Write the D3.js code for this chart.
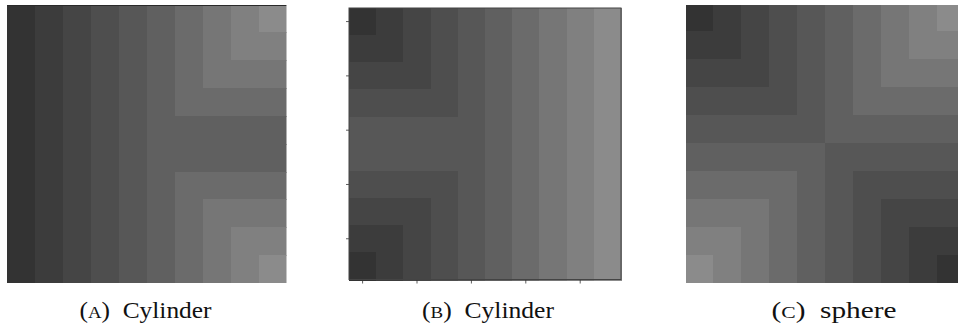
<!DOCTYPE html>
<html>
<head>
<meta charset="utf-8">
<script src="https://cdn.jsdelivr.net/npm/d3@7"></script>
<style>
  body { margin: 0; background: #fff; }
  svg { display: block; }
</style>
</head>
<body>
<div id="chart"></div>
<script>
// grey level for each cell value 0..9
var levels = [0, 1, 2, 3, 4, 5, 6, 7, 8, 9];
var greys = ["#333333", "#3c3c3c", "#454545", "#4e4e4e", "#575757",
             "#606060", "#6b6b6b", "#767676", "#808080", "#8b8b8b"];

var cylinderA = [
  [0, 1, 2, 3, 4, 5, 6, 7, 8, 9],
  [0, 1, 2, 3, 4, 5, 6, 7, 8, 8],
  [0, 1, 2, 3, 4, 5, 6, 7, 7, 7],
  [0, 1, 2, 3, 4, 5, 6, 6, 6, 6],
  [0, 1, 2, 3, 4, 5, 5, 5, 5, 5],
  [0, 1, 2, 3, 4, 5, 5, 5, 5, 5],
  [0, 1, 2, 3, 4, 5, 6, 6, 6, 6],
  [0, 1, 2, 3, 4, 5, 6, 7, 7, 7],
  [0, 1, 2, 3, 4, 5, 6, 7, 8, 8],
  [0, 1, 2, 3, 4, 5, 6, 7, 8, 9]
];

var cylinderB = [
  [0, 1, 2, 3, 4, 5, 6, 7, 8, 9],
  [1, 1, 2, 3, 4, 5, 6, 7, 8, 9],
  [2, 2, 2, 3, 4, 5, 6, 7, 8, 9],
  [3, 3, 3, 3, 4, 5, 6, 7, 8, 9],
  [4, 4, 4, 4, 4, 5, 6, 7, 8, 9],
  [4, 4, 4, 4, 4, 5, 6, 7, 8, 9],
  [3, 3, 3, 3, 4, 5, 6, 7, 8, 9],
  [2, 2, 2, 3, 4, 5, 6, 7, 8, 9],
  [1, 1, 2, 3, 4, 5, 6, 7, 8, 9],
  [0, 1, 2, 3, 4, 5, 6, 7, 8, 9]
];

var sphereC = [
  [0, 1, 2, 3, 4, 5, 6, 7, 8, 9],
  [1, 1, 2, 3, 4, 5, 6, 7, 8, 8],
  [2, 2, 2, 3, 4, 5, 6, 7, 7, 7],
  [3, 3, 3, 3, 4, 5, 6, 6, 6, 6],
  [4, 4, 4, 4, 4, 5, 5, 5, 5, 5],
  [5, 5, 5, 5, 5, 4, 4, 4, 4, 4],
  [6, 6, 6, 6, 5, 4, 3, 3, 3, 3],
  [7, 7, 7, 6, 5, 4, 3, 2, 2, 2],
  [8, 8, 7, 6, 5, 4, 3, 2, 1, 1],
  [9, 8, 7, 6, 5, 4, 3, 2, 1, 0]
];

var tickIdx = [0, 2, 4, 6, 8];
var captionLetters = ["A", "B", "C"];
var captionWords = ["Cylinder", "Cylinder", "sphere"];

var width = 958, height = 328;

var svg = d3.select("#chart").append("svg")
  .attr("width", width)
  .attr("height", height);

var color = d3.scaleOrdinal().domain(levels).range(greys);
var idx = d3.range(10);

// panel boxes: where each image sits, and what part of it shows
var panels = [
  { data: cylinderA, x: 7, y: 4.5, w: 279.5, h: 278.5, clip: [7, 5, 279.5, 278], frame: false, cap: 145.5, capW: 132 },
  { data: cylinderB, x: 349, y: 8, w: 272, h: 271.5, clip: null, frame: true, cap: 488, capW: 132 },
  { data: sphereC, x: 684.7, y: 2.7, w: 280, h: 280, clip: [686, 5, 280, 278], frame: false, cap: 834, capW: 125 }
];

panels.forEach(function (p, k) {
  var x = d3.scaleBand().domain(idx).range([0, p.w]);
  var y = d3.scaleBand().domain(idx).range([0, p.h]);

  if (p.clip) {
    svg.append("clipPath").attr("id", "clip" + k)
      .append("rect")
      .attr("x", p.clip[0]).attr("y", p.clip[1])
      .attr("width", p.clip[2]).attr("height", p.clip[3]);
  }

  var g = svg.append("g")
    .attr("clip-path", p.clip ? "url(#clip" + k + ")" : null)
    .append("g")
    .attr("transform", "translate(" + p.x + "," + p.y + ")");

  var cells = [];
  p.data.forEach(function (row, r) {
    row.forEach(function (v, c) { cells.push({ r: r, c: c, v: v }); });
  });

  g.append("g")
    .attr("shape-rendering", "crispEdges")
    .selectAll("rect.cell")
    .data(cells)
    .enter().append("rect")
    .attr("class", "cell")
    .attr("x", function (d) { return x(d.c); })
    .attr("y", function (d) { return y(d.r); })
    .attr("width", x.bandwidth() + 1)
    .attr("height", y.bandwidth() + 1)
    .attr("fill", function (d) { return color(d.v); });

  if (p.frame) {
    // axis ticks without labels, like imshow
    var xa = d3.axisBottom(x).tickValues(tickIdx).tickSize(4).tickFormat("");
    var ya = d3.axisLeft(y).tickValues(tickIdx).tickSize(3).tickFormat("");
    g.append("g").attr("transform", "translate(0," + p.h + ")").call(xa);
    g.append("g").call(ya);
    g.selectAll(".domain").remove();
    g.selectAll(".tick line").attr("stroke", "#333").attr("stroke-width", 0.8);
    g.append("rect")
      .attr("x", 0).attr("y", 0)
      .attr("width", p.w).attr("height", p.h)
      .attr("fill", "none")
      .attr("stroke", "#444")
      .attr("stroke-width", 1);
  } else if (k === 0) {
    g.append("line")
      .attr("x1", 0).attr("x2", p.w)
      .attr("y1", 1).attr("y2", 1)
      .attr("stroke", "#2a2a2a").attr("stroke-width", 1);
  }

  // caption "(A) Cylinder" with small-caps letter
  var t = svg.append("text")
    .attr("x", p.cap)
    .attr("y", 318)
    .attr("text-anchor", "middle")
    .style("font-family", "'Liberation Serif', serif")
    .style("font-size", "23px")
    .attr("fill", "#111");
  t.append("tspan").text("(");
  t.append("tspan").style("font-size", "17px").text(captionLetters[k]);
  t.append("tspan").text(")\u00a0 " + captionWords[k]);

  // stretch to the caption width of the reference if the font is narrower
  var natural = t.node().getComputedTextLength();
  if (natural < p.capW) {
    t.attr("textLength", p.capW).attr("lengthAdjust", "spacingAndGlyphs");
  }
});
</script>
</body>
</html>
